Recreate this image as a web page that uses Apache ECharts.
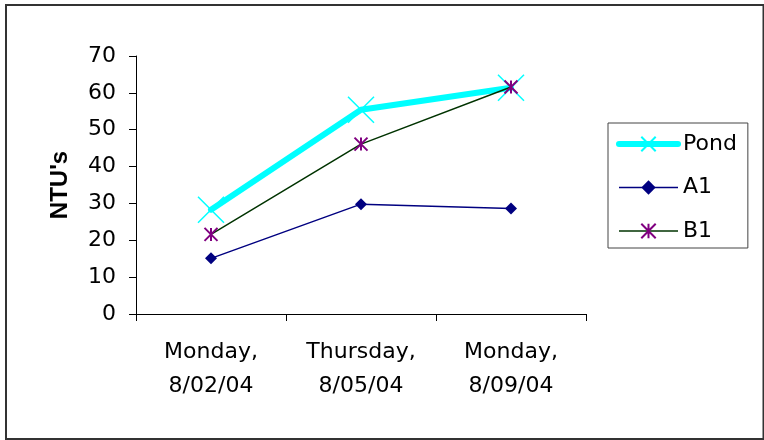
<!DOCTYPE html>
<html>
<head>
<meta charset="utf-8">
<title>NTU's</title>
<script src="https://cdn.jsdelivr.net/npm/echarts@6/dist/echarts.min.js"></script>
<style>
  html, body { margin: 0; padding: 0; background: #ffffff; }
  #chart { width: 764px; height: 440px; }
</style>
</head>
<body>
<div id="chart"></div>
<script>
// Sampling dates (two-line category labels)
const dates = ['Monday,\n8/02/04', 'Thursday,\n8/05/04', 'Monday,\n8/09/04'];

// Turbidity readings in NTU
const pond = [28.3, 55.4, 61.4];
const a1 = [15.1, 29.8, 28.6];
const b1 = [21.6, 46.1, 61.6];

// Y axis range
const yMin = 0;
const yMax = 70;
const yStep = 10;

const labelFont = 'DejaVu Sans';

const chart = echarts.init(document.getElementById('chart'), null, { renderer: 'canvas' });

chart.setOption({
  animation: false,
  backgroundColor: '#ffffff',
  graphic: [{
    type: 'rect',
    shape: { x: 6, y: 5, width: 757.5, height: 434 },
    style: { fill: 'none', stroke: '#333333', lineWidth: 2 },
    silent: true,
    z: 100
  }],
  grid: { left: 136, right: 178, top: 56, bottom: 126 },
  legend: {
    orient: 'vertical',
    left: 608,
    top: 123,
    padding: [10, 11, 6, 8],
    itemGap: 21.5,
    itemWidth: 59,
    itemHeight: 18,
    borderColor: '#444444',
    borderWidth: 1,
    backgroundColor: '#ffffff',
    textStyle: { fontFamily: labelFont, fontSize: 22, lineHeight: 22, color: '#000000' },
    data: [
      { name: 'Pond', lineStyle: { color: '#00ffff', width: 6, cap: 'round' } },
      { name: 'A1', lineStyle: { color: '#000080', width: 1.5 } },
      { name: 'B1', lineStyle: { color: '#003300', width: 1.5 } }
    ]
  },
  xAxis: {
    type: 'category',
    data: dates,
    boundaryGap: true,
    axisLine: { lineStyle: { color: '#000000', width: 1 } },
    axisTick: { show: true, length: 7, inside: false, lineStyle: { color: '#000000' } },
    axisLabel: {
      fontFamily: labelFont, fontSize: 22, lineHeight: 34, color: '#000000',
      margin: 21, interval: 0
    },
    splitLine: { show: false }
  },
  yAxis: {
    type: 'value',
    min: yMin,
    max: yMax,
    interval: yStep,
    name: "NTU's",
    nameLocation: 'middle',
    nameRotate: 90,
    nameGap: 64,
    nameTextStyle: { fontFamily: 'Liberation Sans', fontWeight: 'bold', fontSize: 24, color: '#000000' },
    axisLine: { show: true, lineStyle: { color: '#000000', width: 1 } },
    axisTick: { show: true, length: 7, inside: false, lineStyle: { color: '#000000' } },
    axisLabel: { fontFamily: labelFont, fontSize: 22, color: '#000000', margin: 20 },
    splitLine: { show: false }
  },
  series: [
    {
      name: 'Pond',
      type: 'line',
      data: pond,
      symbol: 'path://M0,0L24,24M24,0L0,24',
      symbolSize: 26,
      lineStyle: { color: '#00ffff', width: 6, cap: 'round', join: 'round' },
      itemStyle: { color: '#00ffff', borderColor: '#00ffff', borderWidth: 1.5 },
      z: 2
    },
    {
      name: 'A1',
      type: 'line',
      data: a1,
      symbol: 'diamond',
      symbolSize: 12,
      lineStyle: { color: '#000080', width: 1.5 },
      itemStyle: { color: '#000080' },
      z: 3
    },
    {
      name: 'B1',
      type: 'line',
      data: b1,
      symbol: 'path://M0,0L12,12M12,0L0,12M6,0L6,12',
      symbolSize: 13,
      lineStyle: { color: '#003300', width: 1.5 },
      itemStyle: { color: '#800080', borderColor: '#800080', borderWidth: 2 },
      z: 4
    }
  ]
});
</script>
</body>
</html>
